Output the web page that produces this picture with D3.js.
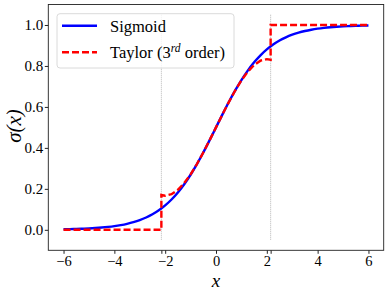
<!DOCTYPE html>
<html><head><meta charset="utf-8">
<script src="https://cdn.jsdelivr.net/npm/d3@7"></script>
<style>body{margin:0;background:#fff}svg{display:block}text{font-family:"Liberation Serif","DejaVu Serif",serif}</style>
</head><body><svg id="c" width="390" height="293"></svg>
<script>
const sigX = [-6,-5.75,-5.5,-5.25,-5,-4.75,-4.5,-4.25,-4,-3.75,-3.5,-3.25,-3,-2.75,-2.5,-2.25,-2,-1.75,-1.5,-1.25,-1,-0.75,-0.5,-0.25,0,0.25,0.5,0.75,1,1.25,1.5,1.75,2,2.25,2.5,2.75,3,3.25,3.5,3.75,4,4.25,4.5,4.75,5,5.25,5.5,5.75,6];
const sigY = [0.0025,0.0032,0.0041,0.0052,0.0067,0.0086,0.0110,0.0141,0.0180,0.0230,0.0293,0.0373,0.0474,0.0601,0.0759,0.0953,0.1192,0.1480,0.1824,0.2227,0.2689,0.3208,0.3775,0.4378,0.5,0.5622,0.6225,0.6792,0.7311,0.7773,0.8176,0.8520,0.8808,0.9047,0.9241,0.9399,0.9526,0.9627,0.9707,0.9770,0.9820,0.9859,0.9890,0.9914,0.9933,0.9948,0.9959,0.9968,0.9975];
const tayX = [-6,-2.15,-2.15,-2,-1.75,-1.5,-1.25,-1,-0.75,-0.5,-0.25,0,0.25,0.5,0.75,1,1.25,1.5,1.75,2,2.15,2.15,6];
const tayY = [0,0,0.170,0.1667,0.1742,0.1953,0.2282,0.2708,0.3213,0.3776,0.4378,0.5,0.5622,0.6224,0.6787,0.7292,0.7718,0.8047,0.8258,0.8333,0.830,1,1];
const cutX = [-2.15, 2.15];
const xTicks = [-6,-4,-2,0,2,4,6];
const yTicks = [0,0.2,0.4,0.6,0.8,1.0];
const labels = ["Sigmoid","Taylor"];

const svg = d3.select("#c");
const L=48.3,R=383.7,T=4.5,B=250.3;
const x = d3.scaleLinear().domain([-6.6,6.6]).range([L,R]);
const y = d3.scaleLinear().domain([-0.1,1.1]).range([B,T]);

svg.selectAll(".cut").data(cutX).join("line")
  .attr("x1",d=>x(d)).attr("x2",d=>x(d)).attr("y1",y(1.05)).attr("y2",y(-0.05))
  .attr("stroke","#888").attr("stroke-width",0.6).attr("stroke-dasharray","1,1");

const line = d3.line().x(d=>x(d[0])).y(d=>y(d[1]));
svg.append("path").attr("d",d3.line().curve(d3.curveMonotoneX).x(d=>x(d[0])).y(d=>y(d[1]))(sigX.map((v,i)=>[v,sigY[i]])))
  .attr("fill","none").attr("stroke","#0000ff").attr("stroke-width",2.4);
svg.append("path").attr("d",line(tayX.map((v,i)=>[v,tayY[i]])))
  .attr("fill","none").attr("stroke","#ff0000").attr("stroke-width",2.4).attr("stroke-dasharray","7,3");

svg.append("rect").attr("x",L).attr("y",T).attr("width",R-L).attr("height",B-T)
  .attr("fill","none").attr("stroke","#222").attr("stroke-width",0.9);

const xa = svg.append("g").attr("transform",`translate(0,${B})`)
  .call(d3.axisBottom(x).tickValues(xTicks).tickSize(3.5).tickPadding(1.5).tickFormat(d=>d<0?"\u2212"+(-d):d));
xa.select(".domain").remove();
xa.selectAll("text").attr("font-size",14.5).attr("fill","#000").attr("font-family","Liberation Serif");
xa.selectAll("line").attr("stroke","#222");
svg.append("g").attr("transform",`translate(0,${B})`)
  .call(d3.axisBottom(x).tickValues(cutX).tickSize(3.5).tickFormat(""))
  .call(g=>{g.select(".domain").remove();g.selectAll("line").attr("stroke","#222");});

const ya = svg.append("g").attr("transform",`translate(${L},0)`)
  .call(d3.axisLeft(y).tickValues(yTicks).tickSize(3.5).tickPadding(1.5).tickFormat(d3.format(".1f")));
ya.select(".domain").remove();
ya.selectAll("text").attr("font-size",15).attr("fill","#000").attr("font-family","Liberation Serif");
ya.selectAll("line").attr("stroke","#222");

svg.append("text").attr("x",x(0)).attr("y",287).attr("text-anchor","middle")
  .attr("font-size",19).attr("font-style","italic").text("x");
svg.append("text").attr("transform",`translate(21,${126}) rotate(-90)`).attr("text-anchor","middle")
  .attr("font-size",21).attr("font-style","italic").text("σ(x)");

const lg = svg.append("g");
lg.append("rect").attr("x",57).attr("y",13.7).attr("width",177).attr("height",54.3).attr("rx",3)
  .attr("fill","#fff").attr("fill-opacity",0.8).attr("stroke","#d0d0d0").attr("stroke-width",0.8);
lg.append("line").attr("x1",62).attr("x2",97).attr("y1",25.7).attr("y2",25.7).attr("stroke","#0000ff").attr("stroke-width",2.4);
lg.append("line").attr("x1",62).attr("x2",97).attr("y1",52.3).attr("y2",52.3).attr("stroke","#ff0000").attr("stroke-width",2.4).attr("stroke-dasharray","7,3");
lg.append("text").attr("x",110).attr("y",31.5).attr("font-size",16.5).text(labels[0]);
const t2 = lg.append("text").attr("x",110).attr("y",58).attr("font-size",16.5);
t2.append("tspan").text(labels[1]+" (3");
t2.append("tspan").attr("dy",-6).attr("font-size",11.5).attr("font-style","italic").text("rd");
t2.append("tspan").attr("dy",6).text(" order)");
</script></body></html>
